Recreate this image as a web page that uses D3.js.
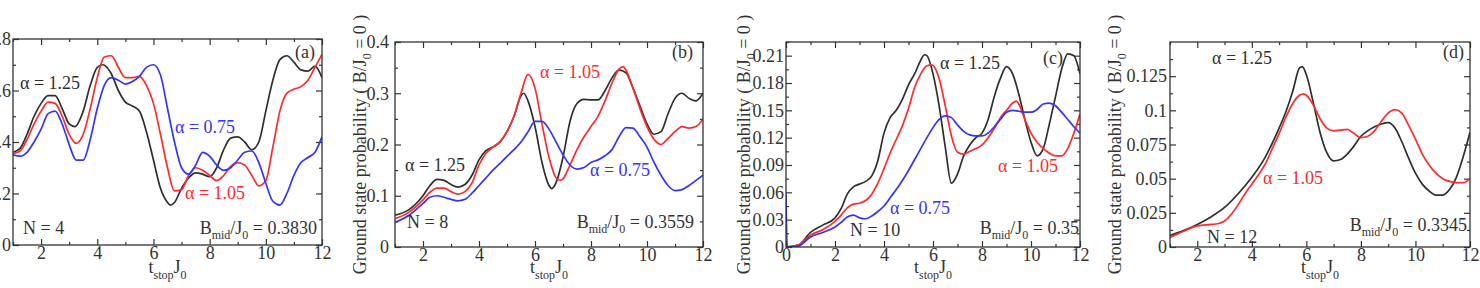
<!DOCTYPE html>
<html>
<head>
<meta charset="utf-8">
<script src="https://cdn.jsdelivr.net/npm/d3@7"></script>
<style>
  body { margin: 0; background: #fff; }
  svg text { font-family: "Liberation Serif", "DejaVu Serif", serif; }
</style>
</head>
<body>
<svg id="chart" width="1480" height="288"></svg>
<script>
// ---- data: [t_stop*J0, probability] ----
const aBlack = [[1,0.36],[1.25,0.375],[1.5,0.43],[1.75,0.5],[2,0.55],[2.25,0.58],[2.5,0.58],[2.75,0.53],[3,0.47],[3.2,0.46],[3.5,0.52],[3.75,0.62],[4,0.69],[4.2,0.7],[4.5,0.665],[4.75,0.6],[5,0.555],[5.25,0.54],[5.5,0.52],[5.75,0.44],[6,0.33],[6.25,0.22],[6.5,0.165],[6.6,0.155],[6.75,0.165],[7,0.22],[7.25,0.26],[7.5,0.28],[7.75,0.275],[8,0.265],[8.25,0.3],[8.5,0.37],[8.75,0.415],[9,0.42],[9.25,0.4],[9.5,0.37],[9.75,0.4],[10,0.52],[10.25,0.64],[10.5,0.72],[10.75,0.735],[11,0.71],[11.25,0.68],[11.5,0.675],[11.75,0.695],[12,0.65]];
const aRed = [[1,0.355],[1.25,0.365],[1.5,0.41],[1.75,0.47],[2,0.52],[2.25,0.555],[2.5,0.55],[2.75,0.5],[3,0.43],[3.25,0.395],[3.5,0.43],[3.75,0.53],[4,0.65],[4.25,0.73],[4.5,0.735],[4.75,0.69],[5,0.65],[5.25,0.65],[5.5,0.655],[5.75,0.62],[6,0.55],[6.25,0.43],[6.5,0.3],[6.75,0.21],[7,0.215],[7.25,0.27],[7.5,0.3],[7.75,0.29],[8,0.27],[8.25,0.25],[8.5,0.27],[8.75,0.305],[9,0.32],[9.25,0.31],[9.5,0.27],[9.75,0.23],[10,0.25],[10.25,0.38],[10.5,0.52],[10.75,0.59],[11,0.605],[11.25,0.615],[11.5,0.64],[11.75,0.69],[12,0.74]];
const aBlue = [[1,0.35],[1.25,0.345],[1.5,0.36],[1.75,0.4],[2,0.45],[2.25,0.51],[2.5,0.52],[2.75,0.47],[3,0.39],[3.25,0.33],[3.5,0.33],[3.75,0.41],[4,0.53],[4.25,0.62],[4.5,0.65],[4.75,0.64],[5,0.625],[5.25,0.635],[5.5,0.655],[5.75,0.69],[6,0.7],[6.25,0.66],[6.5,0.53],[6.75,0.4],[7,0.3],[7.25,0.275],[7.5,0.31],[7.75,0.36],[8,0.345],[8.25,0.31],[8.5,0.29],[8.75,0.3],[9,0.33],[9.25,0.36],[9.5,0.365],[9.75,0.32],[10,0.24],[10.25,0.17],[10.5,0.155],[10.75,0.2],[11,0.27],[11.25,0.32],[11.5,0.34],[11.75,0.36],[12,0.42]];

const bBlack = [[1,0.062],[1.5,0.073],[2,0.1],[2.25,0.12],[2.5,0.132],[2.75,0.13],[3,0.122],[3.25,0.117],[3.5,0.122],[3.75,0.14],[4,0.17],[4.25,0.188],[4.5,0.195],[4.75,0.205],[5,0.225],[5.25,0.255],[5.5,0.295],[5.6,0.3],[5.75,0.285],[6,0.235],[6.25,0.165],[6.5,0.12],[6.6,0.114],[6.75,0.125],[7,0.175],[7.25,0.245],[7.5,0.28],[7.75,0.288],[8,0.287],[8.25,0.287],[8.5,0.305],[8.75,0.33],[9,0.345],[9.25,0.34],[9.5,0.31],[9.75,0.275],[10,0.24],[10.25,0.22],[10.5,0.225],[10.75,0.26],[11,0.29],[11.25,0.3],[11.5,0.29],[11.75,0.285],[12,0.3]];
const bRed = [[1,0.055],[1.5,0.068],[2,0.092],[2.25,0.107],[2.5,0.115],[2.75,0.115],[3,0.108],[3.25,0.103],[3.5,0.108],[3.75,0.125],[4,0.16],[4.25,0.183],[4.5,0.195],[4.75,0.205],[5,0.225],[5.25,0.255],[5.5,0.3],[5.75,0.337],[6,0.31],[6.25,0.24],[6.5,0.175],[6.75,0.135],[6.9,0.13],[7,0.133],[7.25,0.16],[7.5,0.19],[7.75,0.215],[8,0.235],[8.25,0.255],[8.5,0.285],[8.75,0.32],[9,0.347],[9.15,0.352],[9.25,0.345],[9.5,0.31],[9.75,0.27],[10,0.235],[10.25,0.21],[10.5,0.2],[10.75,0.212],[11,0.225],[11.25,0.235],[11.5,0.232],[11.75,0.235],[12,0.25]];
const bBlue = [[1,0.048],[1.5,0.062],[2,0.085],[2.25,0.097],[2.5,0.1],[2.75,0.097],[3,0.093],[3.25,0.09],[3.5,0.093],[3.75,0.105],[4,0.12],[4.25,0.135],[4.5,0.15],[4.75,0.163],[5,0.177],[5.25,0.19],[5.5,0.205],[5.75,0.225],[6,0.245],[6.25,0.245],[6.5,0.23],[6.75,0.205],[7,0.18],[7.25,0.16],[7.5,0.152],[7.75,0.155],[8,0.165],[8.25,0.17],[8.5,0.178],[8.75,0.19],[9,0.215],[9.25,0.233],[9.5,0.232],[9.75,0.215],[10,0.195],[10.25,0.165],[10.5,0.14],[10.75,0.12],[11,0.11],[11.25,0.112],[11.5,0.12],[11.75,0.13],[12,0.14]];

const cBlack = [[0,0],[0.5,0.002],[1,0.016],[1.5,0.024],[2,0.032],[2.25,0.042],[2.5,0.058],[2.75,0.066],[3,0.069],[3.25,0.072],[3.5,0.078],[3.75,0.095],[4,0.125],[4.25,0.142],[4.5,0.15],[4.75,0.162],[5,0.178],[5.25,0.19],[5.5,0.205],[5.65,0.211],[5.75,0.21],[6,0.19],[6.25,0.155],[6.5,0.11],[6.75,0.07],[7,0.08],[7.25,0.1],[7.5,0.112],[7.75,0.12],[8,0.125],[8.25,0.14],[8.5,0.165],[8.75,0.185],[9,0.198],[9.25,0.19],[9.5,0.168],[9.75,0.14],[10,0.115],[10.25,0.1],[10.5,0.108],[10.75,0.135],[11,0.165],[11.25,0.195],[11.5,0.212],[11.75,0.21],[12,0.19]];
const cRed = [[0,0],[0.5,0.002],[1,0.013],[1.5,0.019],[2,0.028],[2.25,0.035],[2.5,0.043],[2.75,0.047],[3,0.048],[3.25,0.051],[3.5,0.058],[3.75,0.07],[4,0.086],[4.25,0.103],[4.5,0.118],[4.75,0.133],[5,0.152],[5.25,0.175],[5.5,0.19],[5.75,0.199],[5.95,0.2],[6.25,0.185],[6.5,0.155],[6.75,0.122],[7,0.104],[7.25,0.102],[7.5,0.105],[7.75,0.108],[8,0.112],[8.25,0.12],[8.5,0.13],[8.75,0.142],[9,0.15],[9.25,0.158],[9.4,0.16],[9.5,0.157],[9.75,0.14],[10,0.125],[10.25,0.115],[10.5,0.108],[10.75,0.103],[11,0.1],[11.25,0.1],[11.5,0.108],[11.75,0.125],[12,0.146]];
const cBlue = [[0,0.058],[0.05,0],[0.5,0.001],[1,0.011],[1.5,0.016],[2,0.022],[2.25,0.027],[2.5,0.033],[2.75,0.035],[3,0.032],[3.25,0.031],[3.5,0.034],[3.75,0.039],[4,0.045],[4.25,0.054],[4.5,0.063],[4.75,0.073],[5,0.084],[5.25,0.096],[5.5,0.108],[5.75,0.12],[6,0.131],[6.25,0.14],[6.5,0.144],[6.75,0.142],[7,0.134],[7.25,0.127],[7.5,0.123],[7.75,0.122],[8,0.122],[8.25,0.125],[8.5,0.132],[8.75,0.14],[9,0.148],[9.25,0.15],[9.5,0.149],[9.75,0.148],[10,0.148],[10.25,0.151],[10.5,0.157],[10.75,0.158],[11,0.155],[11.25,0.148],[11.5,0.14],[11.75,0.132],[12,0.125]];

const dBlack = [[1,0.0085],[1.5,0.012],[2,0.0165],[2.5,0.022],[3,0.029],[3.5,0.039],[4,0.051],[4.5,0.066],[5,0.087],[5.25,0.099],[5.5,0.114],[5.75,0.131],[5.85,0.132],[6,0.126],[6.25,0.106],[6.5,0.084],[6.75,0.069],[7,0.063],[7.25,0.064],[7.5,0.068],[7.75,0.074],[8,0.081],[8.25,0.085],[8.5,0.088],[8.75,0.09],[9,0.091],[9.25,0.087],[9.5,0.077],[9.75,0.065],[10,0.054],[10.25,0.046],[10.5,0.041],[10.75,0.038],[11,0.038],[11.25,0.042],[11.5,0.051],[11.75,0.066],[12,0.084]];
const dRed = [[1,0.007],[1.5,0.0115],[2,0.0155],[2.5,0.0165],[2.75,0.017],[3,0.019],[3.25,0.024],[3.5,0.031],[3.75,0.039],[4,0.046],[4.25,0.053],[4.5,0.061],[4.75,0.072],[5,0.083],[5.25,0.095],[5.5,0.105],[5.75,0.111],[5.9,0.112],[6,0.111],[6.25,0.104],[6.5,0.094],[6.75,0.087],[7,0.085],[7.25,0.0855],[7.5,0.086],[7.75,0.083],[8,0.08],[8.25,0.081],[8.5,0.085],[8.75,0.092],[9,0.098],[9.25,0.1005],[9.5,0.098],[9.75,0.089],[10,0.079],[10.25,0.068],[10.5,0.06],[10.75,0.054],[11,0.05],[11.25,0.048],[11.5,0.047],[11.75,0.047],[12,0.05]];

// tick values
const yTicksA = [0, 0.2, 0.4, 0.6, 0.8];
const yTicksB = [0, 0.1, 0.2, 0.3, 0.4];
const yTicksC = [0, 0.03, 0.06, 0.09, 0.12, 0.15, 0.18, 0.21];
const yTicksD = [0, 0.025, 0.05, 0.075, 0.1, 0.125];
const xTicks = [2, 4, 6, 8, 10, 12];
const xTicksC = [0, 2, 4, 6, 8, 10, 12];

const colors = { black: "#2f2f2f", red: "#ff2b2b", blue: "#3434ff" };

const panels = [
  { id: "a", box: [13, 322, 39, 245], xDom: [1, 12], yDom: [0, 0.8], yTicks: yTicksA, yStep: 0.2, xTicks: xTicks, yPad: 2,
    series: [[aBlack, "black"], [aRed, "red"], [aBlue, "blue"]],
    n: "N = 4", bmid: "0.3830", yLabelX: null,
    labels: [["α = 1.25", "black", 20, 89], ["α = 0.75", "blue", 175, 133], ["α = 1.05", "red", 185, 199]],
    tag: [295, 58], nPos: [23, 234], bPos: [317, 234] },
  { id: "b", box: [395, 703, 42, 247], xDom: [1, 12], yDom: [0, 0.4], yTicks: yTicksB, yStep: 0.1, xTicks: xTicks, yPad: 6,
    series: [[bBlack, "black"], [bRed, "red"], [bBlue, "blue"]],
    n: "N = 8", bmid: "0.3559", yLabelX: 366,
    labels: [["α = 1.05", "red", 540, 78], ["α = 1.25", "black", 405, 171], ["α = 0.75", "blue", 590, 176]],
    tag: [672, 58], nPos: [407, 228], bPos: [694, 228] },
  { id: "c", box: [786, 1080, 42, 247], xDom: [0, 12], yDom: [0, 0.225], yTicks: yTicksC, yStep: 0.03, xTicks: xTicksC, yPad: 2,
    series: [[cBlack, "black"], [cRed, "red"], [cBlue, "blue"]],
    n: "N = 10", bmid: "0.35", yLabelX: 750,
    labels: [["α = 1.25", "black", 940, 69], ["α = 1.05", "red", 998, 172], ["α = 0.75", "blue", 890, 214]],
    tag: [1043, 64], nPos: [850, 236], bPos: [1079, 234] },
  { id: "d", box: [1170, 1470, 42, 247], xDom: [1, 12], yDom: [0, 0.15], yTicks: yTicksD, yStep: 0.025, xTicks: xTicks, yPad: 3,
    series: [[dBlack, "black"], [dRed, "red"]],
    n: "N = 12", bmid: "0.3345", yLabelX: 1121,
    labels: [["α = 1.25", "black", 1212, 64], ["α = 1.05", "red", 1263, 184]],
    tag: [1443, 58], nPos: [1207, 243], bPos: [1467, 231] }
];

const svg = d3.select("#chart");
const FS = 18;
const FONT = "'Liberation Serif', 'DejaVu Serif', serif";
const ink = "#333";

panels.forEach(p => {
  const [x0, x1, y0, y1] = p.box;
  const x = d3.scaleLinear().domain(p.xDom).range([x0, x1]);
  const y = d3.scaleLinear().domain(p.yDom).range([y1, y0]);
  const g = svg.append("g").attr("font-family", FONT);

  // minor tick values
  const xMinor = d3.range(p.xDom[0], p.xDom[1] + 0.001, 1).filter(v => !p.xTicks.includes(v));
  const yMinor = d3.range(p.yStep / 2, p.yDom[1] + 1e-9, p.yStep);
  const fmt = v => v === 0 ? "0" : d3.format("")(+v.toFixed(4));

  const axes = [
    [d3.axisBottom(x).tickValues(p.xTicks).tickSize(-6).tickPadding(1).tickFormat(fmt), `translate(0,${y1})`],
    [d3.axisBottom(x).tickValues(xMinor).tickSize(-3).tickFormat(""), `translate(0,${y1})`],
    [d3.axisTop(x).tickValues(p.xTicks).tickSize(-6).tickFormat(""), `translate(0,${y0})`],
    [d3.axisTop(x).tickValues(xMinor).tickSize(-3).tickFormat(""), `translate(0,${y0})`],
    [d3.axisLeft(y).tickValues(p.yTicks).tickSize(-6).tickPadding(p.yPad).tickFormat(fmt), `translate(${x0},0)`],
    [d3.axisLeft(y).tickValues(yMinor).tickSize(-3).tickFormat(""), `translate(${x0},0)`],
    [d3.axisRight(y).tickValues(p.yTicks).tickSize(-6).tickFormat(""), `translate(${x1},0)`],
    [d3.axisRight(y).tickValues(yMinor).tickSize(-3).tickFormat(""), `translate(${x1},0)`]
  ];
  axes.forEach(([ax, tr]) => {
    const a = g.append("g").attr("transform", tr).call(ax)
      .attr("font-family", FONT).attr("font-size", FS);
    a.select(".domain").remove();
    a.selectAll("line").attr("stroke", ink).attr("stroke-width", 1.2);
    a.selectAll("text").attr("fill", ink);
  });

  // clip + curves
  const clipId = "clip-" + p.id;
  svg.append("clipPath").attr("id", clipId)
    .append("rect").attr("x", x0).attr("y", y0).attr("width", x1 - x0).attr("height", y1 - y0);
  const line = d3.line().x(d => x(d[0])).y(d => y(d[1])).curve(d3.curveMonotoneX);
  p.series.forEach(([data, c]) => {
    g.append("path").datum(data)
      .attr("clip-path", `url(#${clipId})`)
      .attr("d", line)
      .attr("fill", "none")
      .attr("stroke", colors[c])
      .attr("stroke-width", 1.7)
      .attr("stroke-linejoin", "round");
  });

  // frame
  g.append("rect").attr("x", x0).attr("y", y0).attr("width", x1 - x0).attr("height", y1 - y0)
    .attr("fill", "none").attr("stroke", ink).attr("stroke-width", 1.3);

  // annotations
  p.labels.forEach(([t, c, lx, ly]) => {
    g.append("text").attr("x", lx).attr("y", ly).attr("fill", colors[c])
      .attr("font-size", FS).text(t);
  });
  g.append("text").attr("x", p.tag[0]).attr("y", p.tag[1]).attr("fill", ink)
    .attr("font-size", FS).text(`(${p.id})`);
  g.append("text").attr("x", p.nPos[0]).attr("y", p.nPos[1]).attr("fill", ink)
    .attr("font-size", FS).text(p.n);

  const bt = g.append("text").attr("x", p.bPos[0]).attr("y", p.bPos[1]).attr("fill", ink)
    .attr("text-anchor", "end").attr("font-size", FS);
  bt.append("tspan").text("B");
  bt.append("tspan").attr("dy", 5).attr("font-size", 12).text("mid");
  bt.append("tspan").attr("dy", -5).text("/J");
  bt.append("tspan").attr("dy", 5).attr("font-size", 12).text("0");
  bt.append("tspan").attr("dy", -5).text(" = " + p.bmid);

  // x axis title
  const xt = g.append("text").attr("x", (x0 + x1) / 2).attr("y", 273).attr("fill", ink)
    .attr("text-anchor", "middle").attr("font-size", FS);
  xt.append("tspan").text("t");
  xt.append("tspan").attr("dy", 6).attr("font-size", 12).text("stop");
  xt.append("tspan").attr("dy", -6).text("J");
  xt.append("tspan").attr("dy", 6).attr("font-size", 12).text("0");

  // y axis title
  if (p.yLabelX !== null) {
    const cy = (y0 + y1) / 2;
    const yt = g.append("text").attr("transform", `translate(${p.yLabelX},${cy}) rotate(-90)`)
      .attr("text-anchor", "middle").attr("fill", ink).attr("font-size", FS);
    yt.append("tspan").text("Ground state probability ( B/J");
    yt.append("tspan").attr("dy", 5).attr("font-size", 12).text("0");
    yt.append("tspan").attr("dy", -5).text(" = 0 )");
  }
});
</script>
</body>
</html>
